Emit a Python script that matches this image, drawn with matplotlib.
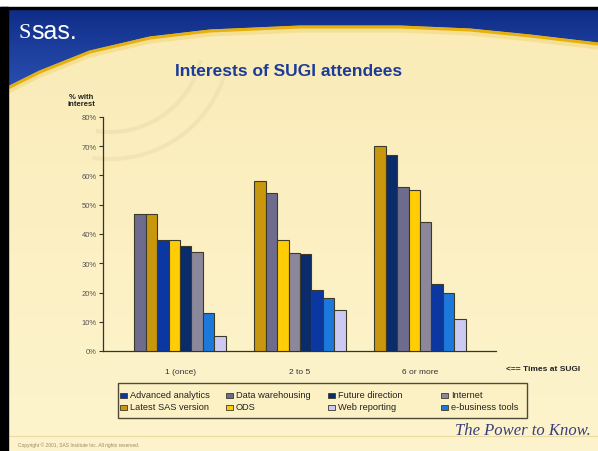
import numpy as np
import matplotlib
matplotlib.use("Agg")
import matplotlib.pyplot as plt
from matplotlib.patches import Rectangle, Polygon
from matplotlib.colors import LinearSegmentedColormap

# data
groups = ["1 (once)", "2 to 5", "6 or more"]
series = ["Advanced analytics", "Data warehousing", "Future direction", "Internet",
          "Latest SAS version", "ODS", "Web reporting", "e-business tools"]
advanced = [38, 21, 23]
warehousing = [47, 54, 56]
future = [36, 33, 67]
internet = [34, 33.4, 44]
latest_sas = [47, 58, 70]
ods = [38, 38, 55]
web = [5, 14, 11]
ebusiness = [13, 18, 20]
values = [advanced, warehousing, future, internet, latest_sas, ods, web, ebusiness]
colors = ["#0b37a3", "#6e6c8e", "#0a2c6a", "#8c889c",
          "#c9970d", "#ffcc05", "#cccaf2", "#1d78dc"]
yticks = [0, 10, 20, 30, 40, 50, 60, 70, 80]

W, H = 598, 452
cream = "#fcf1c4"

fig = plt.figure(figsize=(W / 100, H / 100), dpi=100)
fig.patch.set_facecolor("white")

# slide decoration in pixel coords
bg = fig.add_axes([0, 0, 1, 1])
bg.set_xlim(0, W)
bg.set_ylim(H, 0)
bg.axis("off")

cream_map = LinearSegmentedColormap.from_list("cr", ["#faebb6", "#fcf0c3", "#fdf4cd"])
grad = np.linspace(0, 1, 256).reshape(-1, 1)
bg.imshow(grad, cmap=cream_map, extent=(8, W, H, 10), aspect="auto", zorder=0)

# faint concentric arcs of the slide background
th = np.linspace(0.25, 1.7, 120)
for r in (93, 120):
    bg.plot(110 + r * np.cos(th), 40 + r * np.sin(th), color="#efe0b0",
            lw=3, alpha=0.7, zorder=0.5)

# blue header with curved lower edge
cx = np.array([8, 40, 90, 150, 210, 300, 400, 470, 530, 598])
cy = np.array([88, 72, 52, 38, 31, 27, 27, 30, 36, 44])
header = Polygon(list(zip(cx, cy)) + [(598, 10), (8, 10)], closed=True,
                 facecolor="none", edgecolor="none")
bg.add_patch(header)
blue_map = LinearSegmentedColormap.from_list("bl", ["#0f2c86", "#1d3f9e", "#2a4fb0"])
img = bg.imshow(grad, cmap=blue_map, extent=(8, W, 90, 10), aspect="auto", zorder=1)
img.set_clip_path(header)
bg.plot(cx, cy + 3, color="#f2d77a", lw=5, alpha=0.6, zorder=2, solid_capstyle="butt")
bg.plot(cx, cy + 1, color="#e6b010", lw=2.2, zorder=3, solid_capstyle="butt")

# frame
bg.add_patch(Rectangle((0, 8), 8, H - 8, color="black", zorder=4))
bg.add_patch(Rectangle((0, 8), W, 2, color="black", zorder=4))

# logo and title
bg.text(18, 33, "S", color="white", fontsize=16, family="Liberation Serif",
        va="center", ha="left", zorder=5)
bg.text(31, 32, "sas.", color="white", fontsize=18, family="Liberation Sans",
        va="center", ha="left", zorder=5)
bg.text(289, 72, "Interests of SUGI attendees", color="#1d3c97", fontsize=12.5,
        family="Liberation Sans", weight="bold", ha="center", va="center", zorder=5)

# y label and right-side label
bg.text(81, 101, "% with\ninterest", fontsize=5.5, weight="bold", family="Liberation Sans",
        ha="center", va="center", linespacing=1.1, color="#222222")
bg.text(506, 370, "<== Times at SUGI", fontsize=6, weight="bold", family="Liberation Sans",
        ha="left", va="center", color="#222222")

# footer
bg.plot([8, W], [437, 437], color="#eadba0", lw=0.8)
bg.text(18, 445, "Copyright \u00a9 2001, SAS Institute Inc. All rights reserved.",
        fontsize=3.5, color="#9a8a60", family="Liberation Sans", va="center")
bg.text(591, 431, "The Power to Know.", fontsize=12, style="italic",
        family="Liberation Serif", color="#3a3e7e", ha="right", va="center")

# chart
ax = fig.add_axes([103 / W, 1 - 352 / H, (496 - 103) / W, (352 - 118) / H])
ax.patch.set_alpha(0)
w = 0.095
for g in range(len(groups)):
    order = sorted(range(len(series)), key=lambda i: -values[i][g])
    for r, i in enumerate(order):
        ax.bar(g + (r - 3.5) * w, values[i][g], w, color=colors[i],
               edgecolor="#3d3a28", linewidth=0.8, zorder=3)

ax.set_xlim(-0.6417, 2.6333)
ax.set_ylim(0, 80)
ax.set_xticks(range(len(groups)))
ax.set_xticklabels(groups, fontsize=6, family="Liberation Sans", color="#333333")
ax.set_yticks(yticks)
ax.set_yticklabels([f"{t}%" for t in yticks], fontsize=5.5, family="Liberation Sans",
                   color="#555555")
ax.tick_params(axis="x", length=0, pad=12)
ax.tick_params(axis="y", length=3, width=0.8, color="#333333", pad=1.5)
for s in ["top", "right"]:
    ax.spines[s].set_visible(False)
for s in ["left", "bottom"]:
    ax.spines[s].set_color("#333333")
    ax.spines[s].set_linewidth(0.9)

# legend box drawn like the Excel one: 4 fixed columns, filled row by row
bg.add_patch(Rectangle((118, 384), 409, 35, facecolor=cream, edgecolor="#4d4a38",
                       linewidth=1.0, zorder=5))
col_x = [120, 226, 328, 441]
row_y = [396, 408]
for k, name in enumerate(series):
    x0, y0 = col_x[k % 4], row_y[k // 4]
    bg.add_patch(Rectangle((x0, y0 - 2.5), 7, 5, facecolor=colors[k],
                           edgecolor="#3d3a28", linewidth=0.6, zorder=6))
    bg.text(x0 + 10, y0, name, fontsize=6.7, family="Liberation Sans", color="#222222",
            ha="left", va="center", zorder=6)

fig.savefig("out.png", dpi=100)
